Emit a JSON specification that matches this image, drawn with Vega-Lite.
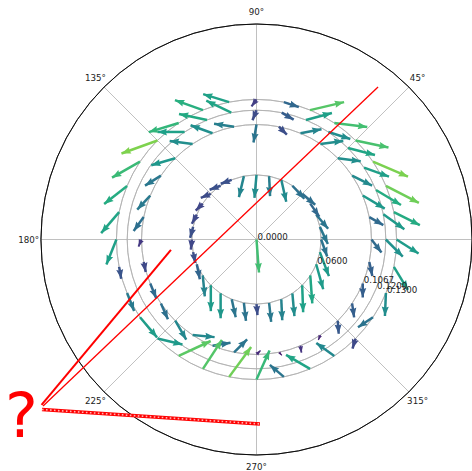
{
  "$schema": "https://vega.github.io/schema/vega-lite/v6.json",
  "width": 431,
  "height": 431,
  "autosize": "none",
  "padding": {"left": 41, "top": 24, "right": 0, "bottom": 16},
  "background": "white",
  "config": {"view": {"stroke": null}},
  "datasets": {
    "spokes": [
      {"x": 0, "y": 0, "x2": 0.2, "y2": 0},
      {"x": 0, "y": 0, "x2": 0.1414, "y2": 0.1414},
      {"x": 0, "y": 0, "x2": 0, "y2": 0.2},
      {"x": 0, "y": 0, "x2": -0.1414, "y2": 0.1414},
      {"x": 0, "y": 0, "x2": -0.2, "y2": 0},
      {"x": 0, "y": 0, "x2": -0.1414, "y2": -0.1414},
      {"x": 0, "y": 0, "x2": 0, "y2": -0.2},
      {"x": 0, "y": 0, "x2": 0.1414, "y2": -0.1414}
    ],
    "thetaLabels": [
      {"deg": 45, "label": "45°"}, {"deg": 90, "label": "90°"}, {"deg": 135, "label": "135°"},
      {"deg": 180, "label": "180°"}, {"deg": 225, "label": "225°"}, {"deg": 270, "label": "270°"}, {"deg": 315, "label": "315°"}
    ],
    "circles": [
      {"r": 0.06, "kind": "grid"}, {"r": 0.1067, "kind": "grid"}, {"r": 0.12, "kind": "grid"}, {"r": 0.13, "kind": "grid"},
      {"r": 0.2, "kind": "spine"}
    ],
    "rlabels": [
      {"r": 0, "label": "0.0000"}, {"r": 0.06, "label": "0.0600"}, {"r": 0.1067, "label": "0.1067"},
      {"r": 0.12, "label": "0.1200"}, {"r": 0.13, "label": "0.1300"}
    ],
    "arrows": [
      {"x":0,"y":0,"x2":0.0023,"y2":-0.0306,"dir":176,"mag":0.0307},

      {"x":0.06,"y":0,"x2":0.0656,"y2":-0.0158,"dir":161,"mag":0.0167},
      {"x":0.0588,"y":0.0117,"x2":0.0662,"y2":-0.0041,"dir":155,"mag":0.0174},
      {"x":0.0554,"y":0.023,"x2":0.0665,"y2":0.01,"dir":139,"mag":0.0171},
      {"x":0.0499,"y":0.0333,"x2":0.0583,"y2":0.0212,"dir":145,"mag":0.0147},
      {"x":0.0424,"y":0.0424,"x2":0.0545,"y2":0.0322,"dir":130,"mag":0.0158},
      {"x":0.0333,"y":0.0499,"x2":0.0444,"y2":0.0378,"dir":137,"mag":0.0164},
      {"x":0.023,"y":0.0554,"x2":0.0276,"y2":0.035,"dir":167,"mag":0.021},
      {"x":0.0117,"y":0.0588,"x2":0.0126,"y2":0.0402,"dir":177,"mag":0.0186},
      {"x":0,"y":0.06,"x2":-0.0019,"y2":0.0387,"dir":185,"mag":0.0214},
      {"x":-0.0117,"y":0.0588,"x2":-0.0163,"y2":0.0393,"dir":193,"mag":0.02},
      {"x":-0.023,"y":0.0554,"x2":-0.0332,"y2":0.0517,"dir":250,"mag":0.0109},
      {"x":-0.0333,"y":0.0499,"x2":-0.0435,"y2":0.0462,"dir":250,"mag":0.0109},
      {"x":-0.0424,"y":0.0424,"x2":-0.0517,"y2":0.0387,"dir":248,"mag":0.01},
      {"x":-0.0499,"y":0.0333,"x2":-0.0564,"y2":0.0268,"dir":225,"mag":0.0092},
      {"x":-0.0554,"y":0.023,"x2":-0.06,"y2":0.0146,"dir":209,"mag":0.0096},
      {"x":-0.0588,"y":0.0117,"x2":-0.0616,"y2":0.0015,"dir":195,"mag":0.0106},
      {"x":-0.06,"y":0,"x2":-0.0609,"y2":-0.0093,"dir":186,"mag":0.0093},
      {"x":-0.0588,"y":-0.0117,"x2":-0.0569,"y2":-0.0219,"dir":170,"mag":0.0104},
      {"x":-0.0554,"y":-0.023,"x2":-0.0526,"y2":-0.0369,"dir":169,"mag":0.0142},
      {"x":-0.0499,"y":-0.0333,"x2":-0.048,"y2":-0.0528,"dir":175,"mag":0.0196},
      {"x":-0.0424,"y":-0.0424,"x2":-0.0424,"y2":-0.0665,"dir":180,"mag":0.0241},
      {"x":-0.0333,"y":-0.0499,"x2":-0.0333,"y2":-0.0731,"dir":180,"mag":0.0232},
      {"x":-0.023,"y":-0.0554,"x2":-0.0193,"y2":-0.0721,"dir":167,"mag":0.0171},
      {"x":-0.0117,"y":-0.0588,"x2":-0.0098,"y2":-0.0755,"dir":174,"mag":0.0168},
      {"x":0,"y":-0.06,"x2":0.0009,"y2":-0.0702,"dir":175,"mag":0.0102},
      {"x":0.0117,"y":-0.0588,"x2":0.0136,"y2":-0.0764,"dir":174,"mag":0.0177},
      {"x":0.023,"y":-0.0554,"x2":0.0239,"y2":-0.0749,"dir":177,"mag":0.0195},
      {"x":0.0333,"y":-0.0499,"x2":0.0352,"y2":-0.0712,"dir":175,"mag":0.0214},
      {"x":0.0424,"y":-0.0424,"x2":0.0433,"y2":-0.0675,"dir":178,"mag":0.0251},
      {"x":0.0499,"y":-0.0333,"x2":0.0518,"y2":-0.0593,"dir":176,"mag":0.0261},
      {"x":0.0554,"y":-0.023,"x2":0.0619,"y2":-0.0462,"dir":164,"mag":0.0241},
      {"x":0.0588,"y":-0.0117,"x2":0.0672,"y2":-0.034,"dir":159,"mag":0.0238},

      {"x":0.1067,"y":0,"x2":0.116,"y2":-0.0121,"dir":142,"mag":0.0152},
      {"x":0.1047,"y":0.0208,"x2":0.1177,"y2":0.0134,"dir":120,"mag":0.015},
      {"x":0.0986,"y":0.0408,"x2":0.119,"y2":0.0287,"dir":121,"mag":0.0237},
      {"x":0.0887,"y":0.0593,"x2":0.1073,"y2":0.05,"dir":117,"mag":0.0208},
      {"x":0.0754,"y":0.0754,"x2":0.0967,"y2":0.0726,"dir":97,"mag":0.0215},
      {"x":0.0593,"y":0.0887,"x2":0.0806,"y2":0.0915,"dir":83,"mag":0.0215},
      {"x":0.0408,"y":0.0986,"x2":0.0603,"y2":0.1023,"dir":79,"mag":0.0199},
      {"x":0.0208,"y":0.1047,"x2":0.0282,"y2":0.0973,"dir":135,"mag":0.0105},
      {"x":0,"y":0.1067,"x2":-0.0028,"y2":0.09,"dir":190,"mag":0.0169},
      {"x":-0.0208,"y":0.1047,"x2":-0.0394,"y2":0.1075,"dir":-81,"mag":0.0188},
      {"x":-0.0408,"y":0.0986,"x2":-0.0612,"y2":0.106,"dir":-70,"mag":0.0217},
      {"x":-0.0593,"y":0.0887,"x2":-0.0806,"y2":0.0915,"dir":-83,"mag":0.0215},
      {"x":-0.0754,"y":0.0754,"x2":-0.0977,"y2":0.0689,"dir":254,"mag":0.0232},
      {"x":-0.0887,"y":0.0593,"x2":-0.1035,"y2":0.05,"dir":238,"mag":0.0175},
      {"x":-0.0986,"y":0.0408,"x2":-0.1107,"y2":0.0278,"dir":223,"mag":0.0177},
      {"x":-0.1047,"y":0.0208,"x2":-0.114,"y2":0.0078,"dir":216,"mag":0.016},
      {"x":-0.1067,"y":0,"x2":-0.1095,"y2":-0.0065,"dir":203,"mag":0.0071},
      {"x":-0.1047,"y":-0.0208,"x2":-0.1028,"y2":-0.0301,"dir":169,"mag":0.0095},
      {"x":-0.0986,"y":-0.0408,"x2":-0.093,"y2":-0.0547,"dir":158,"mag":0.015},
      {"x":-0.0887,"y":-0.0593,"x2":-0.0822,"y2":-0.0741,"dir":156,"mag":0.0162},
      {"x":-0.0754,"y":-0.0754,"x2":-0.0652,"y2":-0.093,"dir":150,"mag":0.0204},
      {"x":-0.0593,"y":-0.0887,"x2":-0.0389,"y2":-0.0906,"dir":95,"mag":0.0205},
      {"x":-0.0408,"y":-0.0986,"x2":-0.0241,"y2":-0.0958,"dir":81,"mag":0.0169},
      {"x":-0.0208,"y":-0.1047,"x2":-0.0087,"y2":-0.0926,"dir":45,"mag":0.0171},
      {"x":0,"y":-0.1067,"x2":0.0037,"y2":-0.103,"dir":45,"mag":0.0053},
      {"x":0.0208,"y":-0.1047,"x2":0.0236,"y2":-0.1075,"dir":135,"mag":0.0039},
      {"x":0.0408,"y":-0.0986,"x2":0.0417,"y2":-0.1051,"dir":172,"mag":0.0066},
      {"x":0.0593,"y":-0.0887,"x2":0.0574,"y2":-0.0933,"dir":202,"mag":0.005},
      {"x":0.0754,"y":-0.0754,"x2":0.0763,"y2":-0.0875,"dir":176,"mag":0.0121},
      {"x":0.0887,"y":-0.0593,"x2":0.0906,"y2":-0.0723,"dir":172,"mag":0.0131},
      {"x":0.0986,"y":-0.0408,"x2":0.0986,"y2":-0.0538,"dir":180,"mag":0.013},
      {"x":0.1047,"y":-0.0208,"x2":0.1075,"y2":-0.0338,"dir":168,"mag":0.0133},

      {"x":0.12,"y":0,"x2":0.1358,"y2":-0.0158,"dir":135,"mag":0.0223},
      {"x":0.1177,"y":0.0234,"x2":0.1372,"y2":0.0095,"dir":126,"mag":0.0239},
      {"x":0.1109,"y":0.0459,"x2":0.1341,"y2":0.032,"dir":121,"mag":0.0271},
      {"x":0.0998,"y":0.0667,"x2":0.123,"y2":0.0583,"dir":110,"mag":0.0247},
      {"x":0.0849,"y":0.0849,"x2":0.11,"y2":0.0784,"dir":105,"mag":0.0259},
      {"x":0.0667,"y":0.0998,"x2":0.0871,"y2":0.0933,"dir":108,"mag":0.0214},
      {"x":0.0459,"y":0.1109,"x2":0.07,"y2":0.1174,"dir":75,"mag":0.025},
      {"x":0.0234,"y":0.1177,"x2":0.0345,"y2":0.1112,"dir":120,"mag":0.0129},
      {"x":0,"y":0.12,"x2":-0.0037,"y2":0.1107,"dir":202,"mag":0.01},
      {"x":-0.0234,"y":0.1177,"x2":-0.0466,"y2":0.1288,"dir":-64,"mag":0.0257},
      {"x":-0.0459,"y":0.1109,"x2":-0.0719,"y2":0.1165,"dir":-78,"mag":0.0266},
      {"x":-0.0667,"y":0.0998,"x2":-0.0918,"y2":0.0998,"dir":-90,"mag":0.0251},

      {"x":0.13,"y":0,"x2":0.1504,"y2":-0.013,"dir":123,"mag":0.0242},
      {"x":0.1275,"y":0.0254,"x2":0.1516,"y2":0.0133,"dir":117,"mag":0.027},
      {"x":0.1201,"y":0.0497,"x2":0.1507,"y2":0.0339,"dir":117,"mag":0.0344},
      {"x":0.1081,"y":0.0722,"x2":0.1406,"y2":0.0583,"dir":113,"mag":0.0353},
      {"x":0.0919,"y":0.0919,"x2":0.1225,"y2":0.0854,"dir":102,"mag":0.0313},
      {"x":0.0722,"y":0.1081,"x2":0.1028,"y2":0.1044,"dir":97,"mag":0.0308},
      {"x":0.0497,"y":0.1201,"x2":0.0813,"y2":0.1275,"dir":77,"mag":0.0324},
      {"x":0.0254,"y":0.1275,"x2":0.0393,"y2":0.1229,"dir":108,"mag":0.0147},
      {"x":0,"y":0.13,"x2":-0.0046,"y2":0.1235,"dir":216,"mag":0.008},
      {"x":-0.0254,"y":0.1275,"x2":-0.0495,"y2":0.1349,"dir":-73,"mag":0.0252},
      {"x":-0.0497,"y":0.1201,"x2":-0.0757,"y2":0.1294,"dir":-70,"mag":0.0276},
      {"x":-0.0722,"y":0.1081,"x2":-0.1,"y2":0.0997,"dir":253,"mag":0.0291},
      {"x":-0.0919,"y":0.0919,"x2":-0.1253,"y2":0.0798,"dir":250,"mag":0.0355},
      {"x":-0.1081,"y":0.0722,"x2":-0.1341,"y2":0.0574,"dir":240,"mag":0.0299},
      {"x":-0.1201,"y":0.0497,"x2":-0.1414,"y2":0.033,"dir":232,"mag":0.0271},
      {"x":-0.1275,"y":0.0254,"x2":-0.1442,"y2":0.0059,"dir":221,"mag":0.0257},
      {"x":-0.13,"y":0,"x2":-0.1393,"y2":-0.0232,"dir":202,"mag":0.025},
      {"x":-0.1275,"y":-0.0254,"x2":-0.1256,"y2":-0.0365,"dir":171,"mag":0.0113},
      {"x":-0.1201,"y":-0.0497,"x2":-0.1136,"y2":-0.0664,"dir":159,"mag":0.0179},
      {"x":-0.1081,"y":-0.0722,"x2":-0.0923,"y2":-0.0908,"dir":140,"mag":0.0243},
      {"x":-0.0919,"y":-0.0919,"x2":-0.0687,"y2":-0.0975,"dir":104,"mag":0.0239},
      {"x":-0.0722,"y":-0.1081,"x2":-0.0425,"y2":-0.0942,"dir":65,"mag":0.0328},
      {"x":-0.0497,"y":-0.1201,"x2":-0.0321,"y2":-0.0932,"dir":33,"mag":0.0322},
      {"x":-0.0254,"y":-0.1275,"x2":-0.005,"y2":-0.0997,"dir":36,"mag":0.0345},
      {"x":0,"y":-0.13,"x2":0.0121,"y2":-0.1031,"dir":24,"mag":0.0295},
      {"x":0.0254,"y":-0.1275,"x2":0.0124,"y2":-0.1164,"dir":-49,"mag":0.0171},
      {"x":0.0497,"y":-0.1201,"x2":0.0274,"y2":-0.1071,"dir":-60,"mag":0.0258},
      {"x":0.0722,"y":-0.1081,"x2":0.0555,"y2":-0.096,"dir":-54,"mag":0.0206},
      {"x":0.0919,"y":-0.0919,"x2":0.0891,"y2":-0.1012,"dir":197,"mag":0.0097},
      {"x":0.1081,"y":-0.0722,"x2":0.0942,"y2":-0.0815,"dir":236,"mag":0.0167},
      {"x":0.1201,"y":-0.0497,"x2":0.1192,"y2":-0.071,"dir":182,"mag":0.0213},
      {"x":0.1275,"y":-0.0254,"x2":0.1405,"y2":-0.0467,"dir":149,"mag":0.025}
    ]
  },
  "layer": [
    {
      "data": {"name": "spokes"},
      "mark": {"type": "rule", "color": "#b0b0b0", "strokeWidth": 0.8},
      "encoding": {
        "x": {"field": "x", "type": "quantitative", "scale": {"domain": [-0.2, 0.2], "nice": false, "zero": false}, "axis": null},
        "y": {"field": "y", "type": "quantitative", "scale": {"domain": [-0.2, 0.2], "nice": false, "zero": false}, "axis": null},
        "x2": {"field": "x2"},
        "y2": {"field": "y2"}
      }
    },
    {
      "data": {"name": "circles"},
      "mark": {"type": "arc", "filled": false, "strokeWidth": 0.8, "theta": 0, "theta2": 6.2832},
      "encoding": {
        "radius": {"field": "r", "type": "quantitative", "scale": {"type": "linear", "domain": [0, 0.2], "range": [0, 215.5], "zero": true}},
        "radius2": {"field": "r"},
        "stroke": {"field": "kind", "type": "nominal", "scale": {"domain": ["grid", "spine"], "range": ["#b0b0b0", "#000000"]}, "legend": null}
      }
    },
    {
      "data": {"name": "arrows"},
      "mark": {"type": "rule", "strokeCap": "butt"},
      "encoding": {
        "x": {"field": "x", "type": "quantitative", "scale": {"domain": [-0.2, 0.2], "nice": false, "zero": false}, "axis": null},
        "y": {"field": "y", "type": "quantitative", "scale": {"domain": [-0.2, 0.2], "nice": false, "zero": false}, "axis": null},
        "x2": {"field": "x2"},
        "y2": {"field": "y2"},
        "color": {"field": "mag", "type": "quantitative", "scale": {"scheme": "viridis", "domain": [0, 0.044]}, "legend": null},
        "strokeWidth": {"field": "mag", "type": "quantitative", "scale": {"domain": [0, 0.0093], "range": [0, 2.5], "clamp": true}, "legend": null}
      }
    },
    {
      "data": {"name": "arrows"},
      "mark": {"type": "point", "shape": "M0,0L0.75,2L0,1.75L-0.75,2Z", "filled": true, "opacity": 1, "strokeWidth": 0},
      "encoding": {
        "x": {"field": "x2", "type": "quantitative", "scale": {"domain": [-0.2, 0.2], "nice": false, "zero": false}, "axis": null},
        "y": {"field": "y2", "type": "quantitative", "scale": {"domain": [-0.2, 0.2], "nice": false, "zero": false}, "axis": null},
        "angle": {"field": "dir", "type": "quantitative", "scale": null},
        "color": {"field": "mag", "type": "quantitative", "scale": {"scheme": "viridis", "domain": [0, 0.044]}, "legend": null},
        "size": {"field": "mag", "type": "quantitative", "scale": {"type": "pow", "exponent": 2, "domain": [0, 0.0093], "range": [0, 88], "clamp": true}, "legend": null}
      }
    },
    {
      "data": {"values": [{"x": -0.1981, "y": -0.1545, "x2": 0.1128, "y2": 0.1415}]},
      "mark": {"type": "rule", "color": "#ff0000", "strokeWidth": 1.3},
      "encoding": {
        "x": {"field": "x", "type": "quantitative"},
        "y": {"field": "y", "type": "quantitative"},
        "x2": {"field": "x2"},
        "y2": {"field": "y2"}
      }
    },
    {
      "data": {"values": [{"x": -0.1995, "y": -0.1535, "x2": -0.0794, "y2": -0.0097}]},
      "mark": {"type": "rule", "color": "#ff0000", "strokeWidth": 2},
      "encoding": {
        "x": {"field": "x", "type": "quantitative"},
        "y": {"field": "y", "type": "quantitative"},
        "x2": {"field": "x2"},
        "y2": {"field": "y2"}
      }
    },
    {
      "data": {"values": [{"x": -0.1991, "y": -0.1578, "x2": 0.0032, "y2": -0.1712}]},
      "mark": {"type": "rule", "color": "#ff0000", "strokeWidth": 3.6, "strokeCap": "butt"},
      "encoding": {
        "x": {"field": "x", "type": "quantitative"},
        "y": {"field": "y", "type": "quantitative"},
        "x2": {"field": "x2"},
        "y2": {"field": "y2"}
      }
    },
    {
      "data": {"values": [{"x": -0.1991, "y": -0.1578, "x2": 0.0032, "y2": -0.1712}]},
      "mark": {"type": "rule", "color": "#ffffff", "strokeWidth": 1.6, "strokeDash": [1.6, 2.4], "opacity": 0.7, "strokeCap": "butt"},
      "encoding": {
        "x": {"field": "x", "type": "quantitative"},
        "y": {"field": "y", "type": "quantitative"},
        "x2": {"field": "x2"},
        "y2": {"field": "y2"}
      }
    },
    {
      "data": {"values": [{"x": -0.2181, "y": -0.1833, "t": "?"}]},
      "mark": {"type": "text", "color": "#ff0000", "fontSize": 62, "font": "DejaVu Sans", "align": "center", "baseline": "alphabetic"},
      "encoding": {
        "x": {"field": "x", "type": "quantitative"},
        "y": {"field": "y", "type": "quantitative"},
        "text": {"field": "t"}
      }
    },
    {
      "data": {"name": "thetaLabels"},
      "mark": {"type": "text", "font": "DejaVu Sans", "fontSize": 8.7, "color": "#222222", "align": "center", "baseline": "middle"},
      "encoding": {
        "theta": {"field": "deg", "type": "quantitative", "stack": null, "scale": {"domain": [0, 360], "range": [1.5708, -4.7124]}},
        "radius": {"datum": 0.2114, "type": "quantitative", "scale": {"type": "linear", "domain": [0, 0.2], "range": [0, 215.5], "zero": true}},
        "text": {"field": "label"}
      }
    },
    {
      "data": {"name": "rlabels"},
      "mark": {"type": "text", "font": "DejaVu Sans", "fontSize": 8.7, "color": "#222222", "align": "left", "baseline": "alphabetic", "dx": 1},
      "encoding": {
        "theta": {"datum": 337.5, "type": "quantitative", "scale": {"domain": [0, 360], "range": [1.5708, -4.7124]}},
        "radius": {"field": "r", "type": "quantitative", "scale": {"type": "linear", "domain": [0, 0.2], "range": [0, 215.5], "zero": true}},
        "text": {"field": "label"}
      }
    }
  ]
}
